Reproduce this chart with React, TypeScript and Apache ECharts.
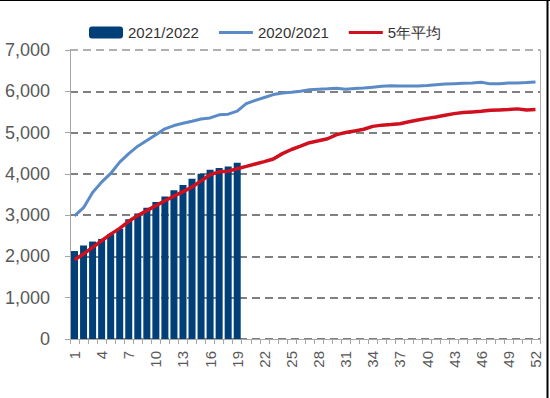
import React, { useEffect, useRef } from "react";
import * as echarts from "echarts";

const weeks: string[] = Array.from({ length: 52 }, (_, i) => String(i + 1));

const season2122: number[] = [
  2130, 2265, 2360, 2425, 2540, 2670, 2900, 3040, 3180, 3320,
  3450, 3600, 3730, 3880, 4000, 4100, 4140, 4180, 4270,
];

const season2021: number[] = [
  2980, 3180, 3550, 3800, 4010, 4285, 4490, 4670, 4810, 4945,
  5090, 5170, 5225, 5275, 5330, 5355, 5430, 5445, 5520, 5700,
  5780, 5850, 5920, 5960, 5975, 6000, 6040, 6050, 6060, 6075,
  6050, 6065, 6080, 6100, 6120, 6135, 6130, 6130, 6130, 6140,
  6160, 6175, 6185, 6195, 6200, 6220, 6180, 6185, 6200, 6200,
  6210, 6225,
];

const avg5y: number[] = [
  1920, 2060, 2220, 2380, 2540, 2680, 2850, 2990, 3110, 3230,
  3350, 3460, 3570, 3680, 3830, 3980, 4050, 4065, 4125, 4180,
  4238, 4295, 4360, 4490, 4590, 4670, 4755, 4800, 4850, 4950,
  5000, 5040, 5080, 5150, 5180, 5195, 5213, 5262, 5303, 5344,
  5377, 5418, 5459, 5484, 5500, 5516, 5541, 5549, 5557, 5574,
  5549, 5557,
];

const seriesNames = ["2021/2022", "2020/2021", "5年平均"];

const lineIcon =
  "path://M0,0L34,0L34,0.01Z M0,4.5L34,4.5L34,7.5L0,7.5Z M0,12L34,12L34,11.99Z";

export default function App() {
  const ref = useRef<HTMLDivElement>(null);

  useEffect(() => {
    if (!ref.current) return;
    const chart = echarts.init(ref.current, null, { renderer: "svg" });
    const font = "'Liberation Sans', Arial, sans-serif";
    chart.setOption({
      animation: false,
      backgroundColor: "#ffffff",
      textStyle: { fontFamily: font },
      legend: {
        left: 84,
        top: 20,
        itemWidth: 34,
        itemHeight: 12,
        itemGap: 20,
        textStyle: { fontSize: 15, color: "#333333", fontFamily: font },
        data: [
          { name: seriesNames[0], icon: "roundRect" },
          { name: seriesNames[1], icon: lineIcon },
          { name: seriesNames[2], icon: lineIcon },
        ],
      },
      grid: { left: 70, right: 10, top: 50, bottom: 59, containLabel: false },
      xAxis: {
        type: "category",
        data: weeks,
        boundaryGap: true,
        axisLine: { show: true, lineStyle: { color: "#a6a6a6", width: 1 } },
        axisTick: {
          show: true,
          interval: 0,
          length: 5,
          lineStyle: { color: "#a6a6a6" },
        },
        axisLabel: {
          interval: 2,
          rotate: 90,
          margin: 12,
          fontSize: 15,
          color: "#595959",
          fontFamily: font,
        },
        splitLine: { show: false },
      },
      yAxis: [
        {
          type: "value",
          min: 0,
          max: 7000,
          interval: 1000,
          axisLine: { show: true, lineStyle: { color: "#a6a6a6" } },
          axisTick: { show: true, length: 5, lineStyle: { color: "#a6a6a6" } },
          axisLabel: {
            margin: 20,
            fontSize: 18,
            color: "#595959",
            fontFamily: font,
            formatter: (v: number) => v.toLocaleString("en-US"),
          },
          splitLine: {
            show: true,
            lineStyle: {
              color: ["#808080", "#808080", "#808080", "#808080", "#808080", "#808080", "#808080", "#b0b0b0"],
              width: 2,
              type: [8, 5],
            },
          },
        },
        {
          type: "value",
          min: 0,
          max: 7000,
          interval: 1000,
          position: "right",
          axisLine: { show: true, lineStyle: { color: "#b0b0b0" } },
          axisTick: { show: false },
          axisLabel: { show: false },
          splitLine: { show: false },
        },
      ],
      series: [
        {
          name: seriesNames[0],
          type: "bar",
          data: season2122,
          barWidth: 7,
          itemStyle: { color: "#003f78" },
          z: 1,
        },
        {
          name: seriesNames[1],
          type: "line",
          data: season2021,
          symbol: "none",
          lineStyle: { color: "#5b8bc7", width: 3 },
          itemStyle: { color: "#5b8bc7" },
          z: 3,
        },
        {
          name: seriesNames[2],
          type: "line",
          data: avg5y,
          symbol: "none",
          lineStyle: { color: "#d0101e", width: 3.5 },
          itemStyle: { color: "#d0101e" },
          z: 4,
        },
      ],
      graphic: [
        {
          type: "line",
          shape: { x1: 0, y1: 0.5, x2: 550, y2: 0.5 },
          style: { stroke: "#000000", lineWidth: 1 },
        },
        {
          type: "line",
          shape: { x1: 547.5, y1: 0, x2: 547.5, y2: 398 },
          style: { stroke: "#000000", lineWidth: 2 },
        },
      ],
    });
    return () => chart.dispose();
  }, []);

  return (
    <div
      ref={ref}
      style={{ position: "fixed", left: 0, top: 0, width: 550, height: 398, background: "#fff" }}
    />
  );
}
